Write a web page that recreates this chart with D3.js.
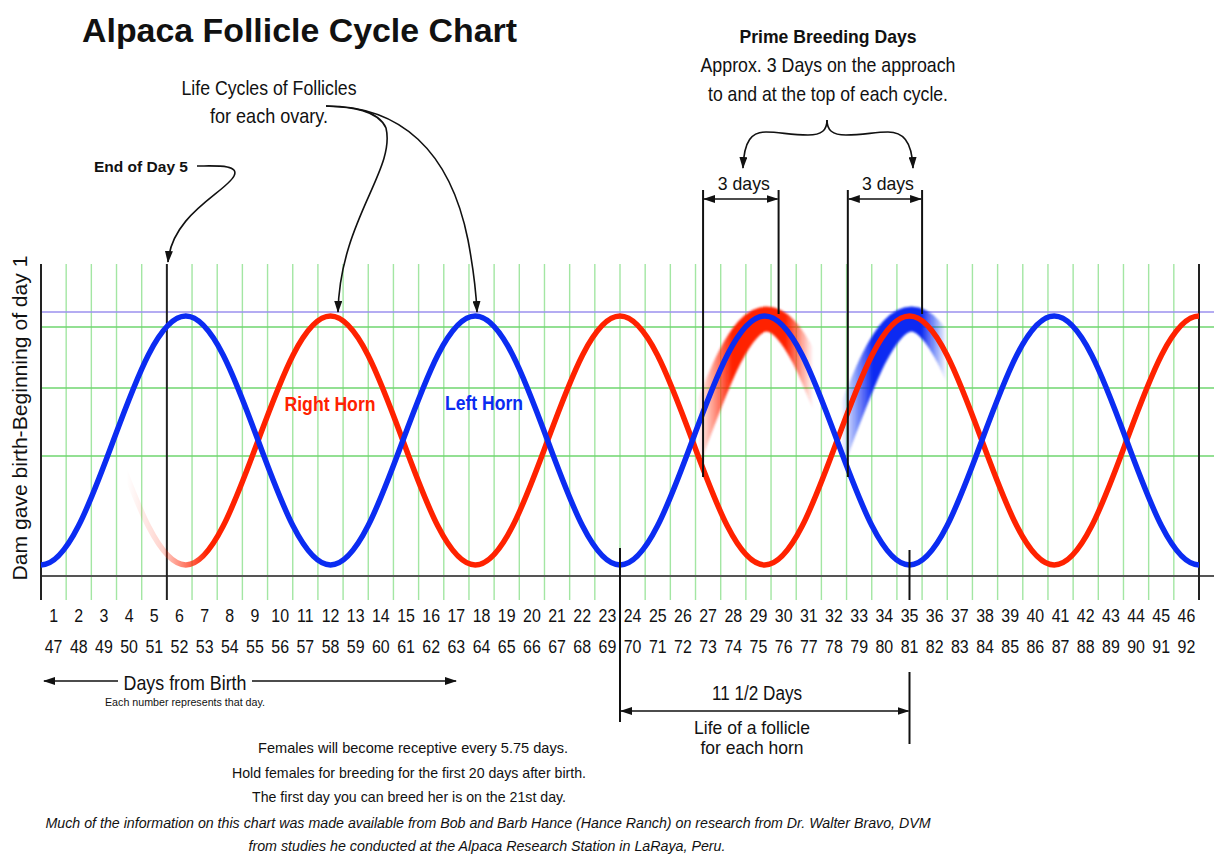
<!DOCTYPE html>
<html>
<head>
<meta charset="utf-8">
<script src="https://cdn.jsdelivr.net/npm/d3@7"></script>
<style>
body{margin:0;background:#fff;}
svg{display:block;font-family:"Liberation Sans",Arial,Helvetica,sans-serif;}
</style>
</head>
<body>
<div id="chart"></div>
<script>
// day numbers printed under the grid
const dayLabelsTop = d3.range(1, 47);
const dayLabelsBottom = d3.range(47, 93);

// turning points of each follicle wave (day boundary, level 0 = bottom, 1 = top)
const leftHornDays  = [0, 5.75, 11.5, 17.25, 23, 28.75, 34.5, 40.25, 46];
const leftHornLevel = [0, 1, 0, 1, 0, 1, 0, 1, 0];
const rightHornDays  = [0, 5.75, 11.5, 17.25, 23, 28.75, 34.5, 40.25, 46];
const rightHornLevel = [1, 0, 1, 0, 1, 0, 1, 0, 1];

// horizontal guide lines
const gridLevels = [0.956, 0.711, 0.438];
const topLevel = 1.016;
const baseLevel = -0.044;

// marked days
const endOfDay = 5;
const follicleSpan = [23, 34.5];
const primeSpans = [[26.3, 29.3], [32.05, 35.0]];
const primeBands = [
    {series: "left", from: 26.0, to: 30.6, color: "#ff2200"},
    {series: "right", from: 31.7, to: 35.9, color: "#0b2cf2"}
];

const sirina = 1214, visina = 856;
const red = "#ff2200", blue = "#0b2cf2";

const x = d3.scaleLinear().domain([0, 46]).range([41, 1199]);
const y = d3.scaleLinear().domain([0, 1]).range([565, 316]);

const gridTop = 264, gridBottom = 600;

const svg = d3.select("#chart").append("svg")
    .attr("width", sirina)
    .attr("height", visina);

const defs = svg.append("defs");

// arrow heads
function marker(id, orient) {
    defs.append("marker")
        .attr("id", id)
        .attr("viewBox", "0 0 12 8")
        .attr("refX", 11)
        .attr("refY", 4)
        .attr("markerWidth", 12)
        .attr("markerHeight", 8)
        .attr("markerUnits", "userSpaceOnUse")
        .attr("orient", orient)
        .append("path")
        .attr("d", "M0,0 L12,4 L0,8 Z")
        .attr("fill", "#111");
}
marker("arr", "auto");
marker("arrStart", "auto-start-reverse");

defs.append("filter").attr("id", "blur")
    .attr("x", "-10%").attr("y", "-10%").attr("width", "120%").attr("height", "120%")
    .append("feGaussianBlur").attr("stdDeviation", 1.3);

// curve: half waves between turning points
function curveHalfWave(context) {
    let x0, y0, started;
    return {
        areaStart() {}, areaEnd() {},
        lineStart() { started = false; },
        lineEnd() {},
        point(px, py) {
            px = +px; py = +py;
            if (!started) { context.moveTo(px, py); started = true; }
            else {
                const h = (px - x0) * 0.3634;
                context.bezierCurveTo(x0 + h, y0, px - h, py, px, py);
            }
            x0 = px; y0 = py;
        }
    };
}

const leftData = leftHornDays.map((d, i) => ({day: d, level: leftHornLevel[i]}));
const rightData = rightHornDays.map((d, i) => ({day: d, level: rightHornLevel[i]}));
const series = {left: leftData, right: rightData};

const line = d3.line()
    .x(d => x(d.day))
    .y(d => y(d.level))
    .curve(curveHalfWave);

// ---- grid ----
const grid = svg.append("g");
const boundaries = d3.range(1, 46).filter(d => d !== endOfDay);
grid.selectAll(".vg")
    .data(boundaries)
    .enter().append("line")
    .attr("x1", d => x(d)).attr("x2", d => x(d))
    .attr("y1", gridTop).attr("y2", gridBottom)
    .attr("stroke", "#a3e6a3")
    .attr("stroke-width", 1.4);

grid.selectAll(".hg")
    .data(gridLevels)
    .enter().append("line")
    .attr("x1", x(0)).attr("x2", sirina)
    .attr("y1", d => y(d)).attr("y2", d => y(d))
    .attr("stroke", "#6fd66f")
    .attr("stroke-width", 1.5);

grid.append("line")
    .attr("x1", x(0)).attr("x2", sirina)
    .attr("y1", y(topLevel)).attr("y2", y(topLevel))
    .attr("stroke", "#9b90ee")
    .attr("stroke-width", 1.5);

grid.append("line")
    .attr("x1", x(0)).attr("x2", sirina)
    .attr("y1", y(baseLevel)).attr("y2", y(baseLevel))
    .attr("stroke", "#555")
    .attr("stroke-width", 2);

grid.selectAll(".ax")
    .data([0, 46, endOfDay])
    .enter().append("line")
    .attr("x1", d => x(d)).attr("x2", d => x(d))
    .attr("y1", gridTop).attr("y2", gridBottom)
    .attr("stroke", "#222")
    .attr("stroke-width", 2);

// ---- prime breeding bands ----
primeBands.forEach((b, i) => {
    const g = defs.append("linearGradient")
        .attr("id", "band" + i)
        .attr("gradientUnits", "userSpaceOnUse")
        .attr("x1", x(b.from)).attr("x2", x(b.to))
        .attr("y1", 0).attr("y2", 0);
    [[0, 0], [0.3, 1], [0.76, 1], [1, 0]].forEach(s => {
        g.append("stop").attr("offset", s[0])
            .attr("stop-color", b.color).attr("stop-opacity", s[1]);
    });
    svg.append("path")
        .attr("d", line(series[b.series]))
        .attr("fill", "none")
        .attr("stroke", "url(#band" + i + ")")
        .attr("stroke-width", 25)
        .attr("filter", "url(#blur)")
        .attr("transform", "translate(2,3)");
});

// ---- follicle waves ----
const fade = defs.append("linearGradient")
    .attr("id", "fadeRed")
    .attr("gradientUnits", "userSpaceOnUse")
    .attr("x1", x(3.4)).attr("x2", x(6.6))
    .attr("y1", 0).attr("y2", 0);
fade.append("stop").attr("offset", 0).attr("stop-color", red).attr("stop-opacity", 0);
fade.append("stop").attr("offset", 0.45).attr("stop-color", red).attr("stop-opacity", 0.2);
fade.append("stop").attr("offset", 1).attr("stop-color", red).attr("stop-opacity", 1);

svg.append("path")
    .attr("d", line(rightData))
    .attr("fill", "none")
    .attr("stroke", "url(#fadeRed)")
    .attr("stroke-width", 5.5);

svg.append("path")
    .attr("d", line(leftData))
    .attr("fill", "none")
    .attr("stroke", blue)
    .attr("stroke-width", 5.5);

// ---- texts ----
function txt(tx, ty, s, size, opts = {}) {
    const t = svg.append("text")
        .attr("x", tx).attr("y", ty)
        .attr("text-anchor", opts.anchor || "middle")
        .attr("font-size", size)
        .attr("fill", opts.color || "#111")
        .text(s);
    if (opts.bold) t.attr("font-weight", "bold");
    if (opts.italic) t.attr("font-style", "italic");
    if (opts.w) t.attr("textLength", opts.w).attr("lengthAdjust", "spacingAndGlyphs");
    return t;
}

txt(330, 411, "Right Horn", 20, {bold: true, color: red, w: 91});
txt(484, 410, "Left Horn", 20, {bold: true, color: blue, w: 78});

// ---- day labels ----
const labels = svg.append("g")
    .attr("font-size", 19).attr("text-anchor", "middle").attr("fill", "#111");
labels.selectAll(".d1")
    .data(dayLabelsTop)
    .enter().append("text")
    .attr("transform", (d, i) => `translate(${x(i + 0.5)},622) scale(0.84,1)`)
    .text(d => d);
labels.selectAll(".d2")
    .data(dayLabelsBottom)
    .enter().append("text")
    .attr("transform", (d, i) => `translate(${x(i + 0.5)},653) scale(0.84,1)`)
    .text(d => d);

// ---- annotations ----
const ann = svg.append("g").attr("stroke", "#111").attr("fill", "none").attr("stroke-width", 1.6);

// follicle life span
ann.append("line")
    .attr("x1", x(follicleSpan[0])).attr("x2", x(follicleSpan[0]))
    .attr("y1", 548).attr("y2", 722).attr("stroke-width", 2);
ann.append("line")
    .attr("x1", x(follicleSpan[1])).attr("x2", x(follicleSpan[1]))
    .attr("y1", 550).attr("y2", 600).attr("stroke-width", 2);
ann.append("line")
    .attr("x1", x(follicleSpan[1])).attr("x2", x(follicleSpan[1]))
    .attr("y1", 672).attr("y2", 744).attr("stroke-width", 2);
ann.append("line")
    .attr("x1", x(follicleSpan[0]) + 1).attr("x2", x(follicleSpan[1]) - 1)
    .attr("y1", 711).attr("y2", 711)
    .attr("marker-start", "url(#arrStart)")
    .attr("marker-end", "url(#arr)");

// prime breeding brackets
primeSpans.forEach(s => {
    ann.append("line")
        .attr("x1", x(s[0])).attr("x2", x(s[0]))
        .attr("y1", 190).attr("y2", 477).attr("stroke-width", 2);
    ann.append("line")
        .attr("x1", x(s[1])).attr("x2", x(s[1]))
        .attr("y1", 190).attr("y2", 314).attr("stroke-width", 2);
    ann.append("line")
        .attr("x1", x(s[0]) + 1).attr("x2", x(s[1]) - 1)
        .attr("y1", 199).attr("y2", 199)
        .attr("marker-start", "url(#arrStart)")
        .attr("marker-end", "url(#arr)");
    txt((x(s[0]) + x(s[1])) / 2 + 3, 190, "3 days", 19, {w: 52});
});

// brace from the prime breeding note
ann.append("path")
    .attr("d", "M827,120 C827,130 822,135 808,135 C790,135 780,132 766,132 C752,132 744,140 743,168")
    .attr("marker-end", "url(#arr)");
ann.append("path")
    .attr("d", "M827,120 C827,130 832,135 846,135 C864,135 874,132 888,132 C902,132 912,140 913,168")
    .attr("marker-end", "url(#arr)");

// end of day 5
ann.append("path")
    .attr("d", "M197,166 C215,166 240,164 234,176 C226,192 172,214 168,262")
    .attr("marker-end", "url(#arr)");

// life cycles arrows
ann.append("path")
    .attr("d", "M326,106 C352,107 378,110 386,128 C396,170 340,220 338,312")
    .attr("marker-end", "url(#arr)");
ann.append("path")
    .attr("d", "M326,106 C400,106 450,150 468,240 C474,272 476,290 477,312")
    .attr("marker-end", "url(#arr)");

// days from birth
ann.append("line")
    .attr("x1", 44).attr("x2", 118).attr("y1", 681).attr("y2", 681)
    .attr("marker-start", "url(#arrStart)");
ann.append("line")
    .attr("x1", 252).attr("x2", 456).attr("y1", 681).attr("y2", 681)
    .attr("marker-end", "url(#arr)");

txt(82, 42, "Alpaca Follicle Cycle Chart", 34, {anchor: "start", bold: true, w: 435});
txt(269, 95, "Life Cycles of Follicles", 21, {w: 175});
txt(269, 123, "for each ovary.", 21, {w: 118});
txt(141, 172, "End of Day 5", 15, {bold: true, w: 94});
txt(828, 43, "Prime Breeding Days", 19, {bold: true, w: 177});
txt(828, 72, "Approx. 3 Days on the approach", 21, {w: 255});
txt(828, 101, "to and at the top of each cycle.", 21, {w: 240});

txt(185, 690, "Days from Birth", 21, {w: 123});
txt(185, 706, "Each number represents that day.", 11, {w: 160});

txt(757, 700, "11 1/2 Days", 20, {w: 90});
txt(752, 734, "Life of a follicle", 19, {w: 116});
txt(752, 754, "for each horn", 19, {w: 103});

txt(413, 753, "Females will become receptive every 5.75 days.", 15, {w: 310});
txt(409, 778, "Hold females for breeding for the first 20 days after birth.", 15, {w: 354});
txt(409, 802, "The first day you can breed her is on the 21st day.", 15, {w: 314});
txt(488, 828, "Much of the information on this chart was made available from Bob and Barb Hance (Hance Ranch) on research from Dr. Walter Bravo, DVM", 15, {italic: true, w: 885});
txt(487, 851, "from studies he conducted at the Alpaca Research Station in LaRaya, Peru.", 15, {italic: true, w: 477});

svg.append("text")
    .attr("transform", "translate(27,418) rotate(-90)")
    .attr("text-anchor", "middle")
    .attr("font-size", 20)
    .attr("fill", "#111")
    .attr("textLength", 325)
    .attr("lengthAdjust", "spacingAndGlyphs")
    .text("Dam gave birth-Beginning of day 1");
</script>
</body>
</html>
